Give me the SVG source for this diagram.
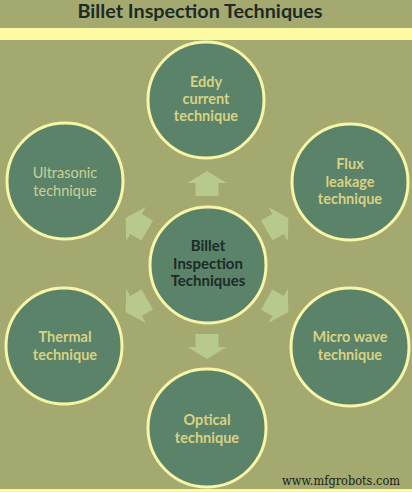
<svg xmlns="http://www.w3.org/2000/svg" width="412" height="492" viewBox="0 0 412 492">
<defs>
<style>
.node{fill:#5a836a;stroke:#f7f5a6;stroke-width:3}
.arrow{fill:#b8c98c}
.lbl{font-family:Lato,"Open Sans","Liberation Sans",sans-serif;font-size:14.5px;font-weight:bold;fill:#d9d283;text-anchor:middle}
.lbl-light{font-family:Lato,"Open Sans","Liberation Sans",sans-serif;font-size:14.5px;fill:#cdd094;text-anchor:middle}
.lbl-dark{font-family:Lato,"Open Sans","Liberation Sans",sans-serif;font-size:15px;font-weight:bold;fill:#1c2b26;text-anchor:middle}
</style>
<path id="arr" d="M0,-94 L19.5,-82 L11.5,-82 L11.5,-69 L-11.5,-69 L-11.5,-82 L-19.5,-82 Z"/>
</defs>
<rect x="0" y="0" width="412" height="492" fill="#a4a970"/>
<rect x="0" y="28" width="412" height="12" fill="#fdfaa4"/>
<rect x="0" y="489" width="412" height="3" fill="#fdfaa4"/>
<text x="200" y="18" font-family="Lato,'Open Sans','Liberation Sans',sans-serif" font-size="19" font-weight="bold" fill="#1c2b26" text-anchor="middle" textLength="245" lengthAdjust="spacingAndGlyphs">Billet Inspection Techniques</text>
<g id="connectors" class="arrow">
<use href="#arr" transform="translate(207,265) rotate(0)"/>
<use href="#arr" transform="translate(207,265) rotate(60)"/>
<use href="#arr" transform="translate(207,265) rotate(120)"/>
<use href="#arr" transform="translate(207,265) rotate(180)"/>
<use href="#arr" transform="translate(207,265) rotate(-120)"/>
<use href="#arr" transform="translate(207,265) rotate(-60)"/>
</g>
<g id="center">
<circle class="node" cx="208" cy="265" r="58"/>
<text class="lbl-dark" x="208" y="251">Billet</text>
<text class="lbl-dark" x="208" y="269">Inspection</text>
<text class="lbl-dark" x="208" y="286">Techniques</text>
</g>
<g id="eddy">
<circle class="node" cx="206" cy="100" r="58"/>
<text class="lbl" x="206" y="87">Eddy</text>
<text class="lbl" x="206" y="104">current</text>
<text class="lbl" x="206" y="121">technique</text>
</g>
<g id="flux">
<circle class="node" cx="350" cy="182" r="58"/>
<text class="lbl" x="350" y="169">Flux</text>
<text class="lbl" x="350" y="187">leakage</text>
<text class="lbl" x="350" y="204">technique</text>
</g>
<g id="microwave">
<circle class="node" cx="350" cy="347" r="59"/>
<text class="lbl" x="350" y="342">Micro wave</text>
<text class="lbl" x="350" y="360">technique</text>
</g>
<g id="optical">
<circle class="node" cx="207" cy="428" r="59"/>
<text class="lbl" x="207" y="425">Optical</text>
<text class="lbl" x="207" y="443">technique</text>
</g>
<g id="thermal">
<circle class="node" cx="64" cy="346" r="58"/>
<text class="lbl" x="65" y="342">Thermal</text>
<text class="lbl" x="65" y="360">technique</text>
</g>
<g id="ultrasonic">
<circle class="node" cx="65" cy="181" r="58"/>
<text class="lbl-light" x="65" y="178">Ultrasonic</text>
<text class="lbl-light" x="65" y="196">technique</text>
</g>
<text x="341" y="485" font-family="'DejaVu Serif','Liberation Serif',serif" font-size="12" fill="#1c1f14" text-anchor="middle" textLength="118" lengthAdjust="spacingAndGlyphs">www.mfgrobots.com</text>
</svg>
